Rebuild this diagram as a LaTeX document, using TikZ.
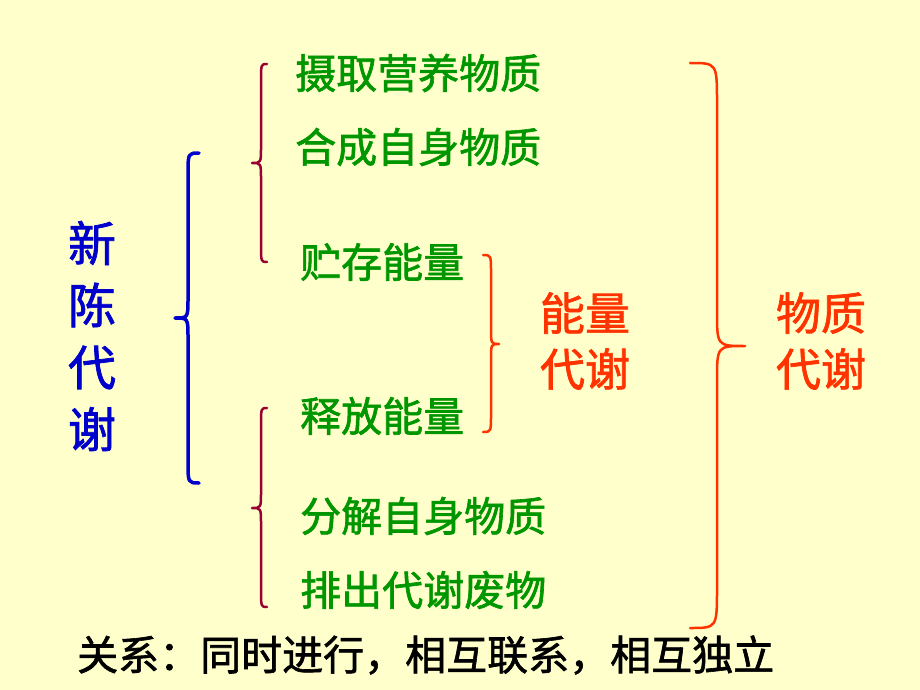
\documentclass[tikz,border=0pt]{standalone}
\usepackage{fontspec}
\setmainfont{Noto Sans CJK SC}[FakeBold=1.5]
\definecolor{bgc}{RGB}{255,255,204}
\definecolor{grn}{RGB}{0,150,0}
\definecolor{org}{RGB}{255,51,0}
\definecolor{blu}{RGB}{0,0,204}
\definecolor{drd}{RGB}{153,0,51}
\tikzset{
  gtxt/.style={text=grn, anchor=west, inner sep=0pt, font=\fontsize{41}{41}\selectfont},
  otxt/.style={text=org, inner sep=0pt, font=\fontsize{45}{45}\selectfont},
  btxt/.style={text=blu, inner sep=0pt, align=center, font=\fontsize{48}{62}\selectfont},
  ktxt/.style={text=black, anchor=west, inner sep=0pt, font=\fontsize{41}{41}\selectfont},
  bluebrace/.style={draw=blu, line width=3.5pt, line cap=round, line join=round},
  redbrace/.style={draw=drd, line width=2.5pt, line cap=round, line join=round},
  orgbrace/.style={draw=org, line width=2.5pt, line cap=round, line join=round}
}
\begin{document}
\begin{tikzpicture}[x=1pt,y=-1pt]
\fill[bgc] (0,0) rectangle (920,690);
\useasboundingbox (0,0) rectangle (920,690);

% texts
\node[btxt] (xcdx) at (92,336) {新\\陈\\代\\谢};
\node[gtxt] (t1) at (295,73) {摄取营养物质};
\node[gtxt] (t2) at (295,147) {合成自身物质};
\node[gtxt] (t3) at (300,262) {贮存能量};
\node[gtxt] (t4) at (300,416) {释放能量};
\node[gtxt] (t5) at (300,516) {分解自身物质};
\node[gtxt] (t6) at (300,590) {排出代谢废物};
\node[otxt] (n1) at (585,313) {能量};
\node[otxt] (n2) at (585,369) {代谢};
\node[otxt] (w1) at (821,313) {物质};
\node[otxt] (w2) at (821,369) {代谢};
\node[ktxt] (rel) at (77,655) {关系：同时进行，相互联系，相互独立};

% blue brace
\draw[bluebrace] (199,153) .. controls (188,153) .. (188,175) -- (188,298)
  .. controls (188,318) .. (175,318) .. controls (188,318) .. (188,338)
  -- (188,461) .. controls (188,483) .. (199,483);
% dark red braces
\draw[redbrace] (267,64) .. controls (261,64) .. (261,82) -- (261,147)
  .. controls (261,163) .. (252,163) .. controls (261,163) .. (261,179)
  -- (261,244) .. controls (261,262) .. (267,262);
\draw[redbrace] (267,408) .. controls (261,408) .. (261,426) -- (261,492)
  .. controls (261,508) .. (252,508) .. controls (261,508) .. (261,524)
  -- (261,589) .. controls (261,607) .. (267,607);
% orange small brace
\draw[orgbrace] (483,255) .. controls (491,255) .. (491,273) -- (491,328)
  .. controls (491,344) .. (499,344) .. controls (491,344) .. (491,360)
  -- (491,414) .. controls (491,432) .. (483,432);
% big brace
\draw[orgbrace] (690,63) .. controls (717,63) .. (717,103) -- (717,311)
  .. controls (717,346) .. (745,346) .. controls (717,346) .. (717,381)
  -- (717,588) .. controls (717,628) .. (690,628);
\end{tikzpicture}
\end{document}
